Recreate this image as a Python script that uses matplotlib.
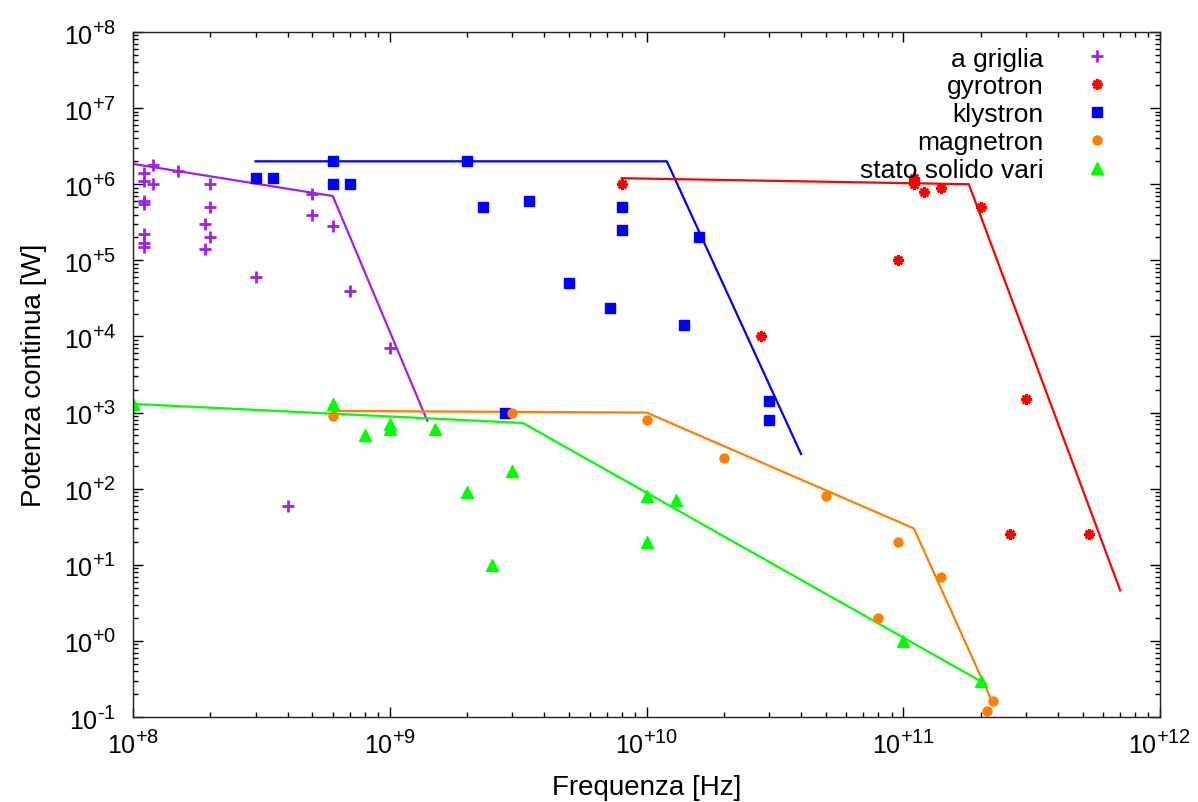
import matplotlib
matplotlib.use("Agg")
import matplotlib.pyplot as plt
import matplotlib._mathtext as mtext
from matplotlib.path import Path
import numpy as np

plt.rcParams['font.family'] = ['Liberation Sans', 'DejaVu Sans']
plt.rcParams['mathtext.fontset'] = 'custom'
plt.rcParams['mathtext.rm'] = 'Liberation Sans'
plt.rcParams['mathtext.it'] = 'Liberation Sans:italic'
mtext.SHRINK_FACTOR = 0.8  # bigger superscripts, like gnuplot

# a griglia
griglia_f = [1.1e8, 1.2e8, 1.1e8, 1.2e8, 1.5e8, 1.1e8, 1.1e8, 2e8, 2e8, 1.9e8, 2e8,
             1.9e8, 1.1e8, 1.1e8, 1.1e8, 3e8, 5e8, 5e8, 6e8, 7e8, 1e9, 4e8]
griglia_p = [1.4e6, 1.8e6, 1.1e6, 1e6, 1.5e6, 6e5, 5.5e5, 1e6, 5e5, 3e5, 2e5,
             1.4e5, 2.2e5, 1.7e5, 1.5e5, 6e4, 7.5e5, 4e5, 2.8e5, 4e4, 7e3, 60]
# gyrotron
gyro_f = [8e9, 2.8e10, 1.1e11, 1.1e11, 1.1e11, 1.2e11, 1.4e11, 2e11, 9.5e10, 3e11, 2.6e11, 5.3e11]
gyro_p = [1e6, 1e4, 1.2e6, 1.1e6, 1e6, 8e5, 9e5, 5e5, 1e5, 1.5e3, 25, 25]
# klystron
kly_f = [3e8, 3.5e8, 6e8, 6e8, 7e8, 2e9, 2.3e9, 3.5e9, 8e9, 8e9, 5e9, 7.2e9,
         2.8e9, 1.6e10, 1.4e10, 3e10, 3e10]
kly_p = [1.2e6, 1.2e6, 2e6, 1e6, 1e6, 2e6, 5e5, 6e5, 5e5, 2.5e5, 5e4, 2.4e4,
         1e3, 2e5, 1.4e4, 1.4e3, 800]
# magnetron
mag_f = [6e8, 3e9, 1e10, 2e10, 5e10, 9.5e10, 1.4e11, 8e10, 2.24e11, 2.11e11]
mag_p = [900, 1e3, 800, 250, 80, 20, 7, 2, 0.16, 0.12]
# stato solido vari
ss_f = [1e8, 6e8, 8e8, 1e9, 1e9, 1.5e9, 2e9, 3e9, 2.5e9, 1e10, 1.3e10, 1e10, 1e11, 2e11]
ss_p = [1.3e3, 1.3e3, 500, 700, 600, 600, 90, 170, 10, 80, 70, 20, 1, 0.3]

# limit lines (break points)
griglia_lf = [1e8, 6e8, 1.4e9]
griglia_lp = [1.85e6, 7e5, 780]
kly_lf = [3e8, 1.2e10, 4e10]
kly_lp = [2e6, 2e6, 285]
gyro_lf = [8e9, 1.8e11, 7e11]
gyro_lp = [1.2e6, 1e6, 4.6]
mag_lf = [6e8, 1e10, 1.1e11, 2.2e11]
mag_lp = [1050, 1000, 30, 0.17]
ss_lf = [1e8, 3.3e9, 2.1e11]
ss_lp = [1300, 730, 0.27]

c_purple = '#a020f0'
c_red = '#ff0000'
c_blue = '#0000ff'
c_orange = '#ff8000'
c_green = '#00ff00'

# gnuplot-like asterisk: + and x together
star = Path([(-1, 0), (1, 0), (0, -1), (0, 1), (-0.7, -0.7), (0.7, 0.7), (-0.7, 0.7), (0.7, -0.7)],
            [Path.MOVETO, Path.LINETO] * 4)

fig = plt.figure(figsize=(11.98, 8.03), dpi=100)
ax = fig.add_axes([133/1198, 1-718/803, (1160-133)/1198, (718-33)/803])

ax.plot(griglia_lf, griglia_lp, color=c_purple, lw=1.6)
ax.plot(kly_lf, kly_lp, color=c_blue, lw=1.6)
ax.plot(gyro_lf, gyro_lp, color=c_red, lw=1.6)
ax.plot(mag_lf, mag_lp, color=c_orange, lw=1.6)
ax.plot(ss_lf, ss_lp, color=c_green, lw=1.6)

ax.plot(griglia_f, griglia_p, ls='none', marker='+', ms=9, mew=2, color=c_purple, label='a griglia')
ax.plot(gyro_f, gyro_p, ls='none', marker=star, ms=8, mew=2.2, mfc='none', color=c_red, label='gyrotron')
ax.plot(kly_f, kly_p, ls='none', marker='s', ms=7.5, color=c_blue, label='klystron')
ax.plot(mag_f, mag_p, ls='none', marker='o', ms=6.5, color=c_orange, label='magnetron')
ax.plot(ss_f, ss_p, ls='none', marker='^', ms=9, color=c_green, label='stato solido vari')

ax.set_xscale('log')
ax.set_yscale('log')
ax.set_xlim(1e8, 1e12)
ax.set_ylim(1e-1, 1e8)


def exp_label(e):
    sign = '+' if e >= 0 else '\u2010'
    return r'$\mathregular{10^{%s%d}}$' % (sign, abs(e))


xt = [8, 9, 10, 11, 12]
yt = [-1, 0, 1, 2, 3, 4, 5, 6, 7, 8]
ax.set_xticks([10.0**e for e in xt])
ax.set_xticklabels([exp_label(e) for e in xt])
ax.set_yticks([10.0**e for e in yt])
ax.set_yticklabels([exp_label(e) for e in yt])
ax.tick_params(which='both', direction='in', top=True, right=True, labelsize=18)
ax.tick_params(which='major', length=7, width=1)
ax.tick_params(which='minor', length=3.5, width=1)
ax.tick_params(axis='x', pad=9)
ax.tick_params(axis='y', pad=12)
for s in ax.spines.values():
    s.set_linewidth(1)
    s.set_color('#222222')

ax.set_xlabel('Frequenza [Hz]', fontsize=20, labelpad=12)
ax.set_ylabel('Potenza continua [W]', fontsize=20, labelpad=12)

ax.legend(loc='upper right', frameon=False, markerfirst=False, fontsize=19,
          handletextpad=1.55, labelspacing=0.15, borderaxespad=0.15, handlelength=1.0,
          bbox_to_anchor=(0.966, 1.0))

fig.savefig('out.png', dpi=100)
